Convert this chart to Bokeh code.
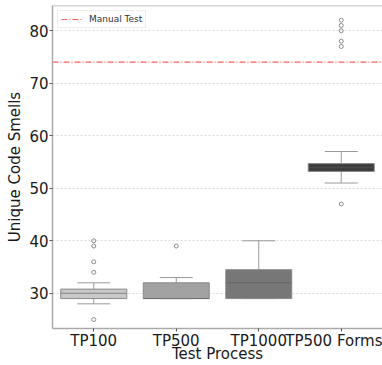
from bokeh.plotting import figure
from bokeh.models import (Range1d, FixedTicker, Span, Legend, LegendItem,
                          ColumnDataSource)
from bokeh.embed import file_html
from bokeh.resources import INLINE

# ---- data ----
categories = ["TP100", "TP500", "TP1000", "TP500 Forms"]
q1 = [29.0, 29.0, 29.0, 53.2]
median = [30.0, 29.0, 32.0, 54.0]
q3 = [30.8, 32.0, 34.5, 54.7]
whisker_low = [28.0, 29.0, 29.0, 51.0]
whisker_high = [32.0, 33.0, 40.0, 57.0]
outliers = [[40, 39, 36, 34, 25], [39], [], [82, 81, 80, 78, 77, 47]]
manual_test = 74
box_colors = ["#c8c8c8", "#a2a2a2", "#777777", "#3d3d3d"]
y_ticks = [30, 40, 50, 60, 70, 80]

FONT = "DejaVu Sans"

p = figure(width=382, height=365, output_backend="svg", toolbar_location=None,
           tools="",
           x_range=Range1d(-0.5, 3.5), y_range=Range1d(23.3, 84.8),
           min_border_left=52, min_border_right=0, min_border_top=5,
           min_border_bottom=32)
p.outline_line_color = None
p.background_fill_color = "white"
p.border_fill_color = "white"

xs = list(range(len(categories)))
src = ColumnDataSource(dict(x=xs, q1=q1, q3=q3, med=median, lo=whisker_low,
                            hi=whisker_high, color=box_colors,
                            cl=[x - 0.2 for x in xs], cr=[x + 0.2 for x in xs],
                            bl=[x - 0.4 for x in xs], br=[x + 0.4 for x in xs]))

whisk = "#9a9a9a"
p.segment(x0="x", y0="q3", x1="x", y1="hi", source=src, line_color=whisk, line_width=1)
p.segment(x0="x", y0="q1", x1="x", y1="lo", source=src, line_color=whisk, line_width=1)
p.segment(x0="cl", y0="hi", x1="cr", y1="hi", source=src, line_color=whisk, line_width=1)
p.segment(x0="cl", y0="lo", x1="cr", y1="lo", source=src, line_color=whisk, line_width=1)
p.vbar(x="x", width=0.8, bottom="q1", top="q3", source=src, fill_color="color",
       line_color="#8a8a8a", line_width=1)
p.segment(x0="bl", y0="med", x1="br", y1="med", source=src, line_color="#5a5a5a",
          line_width=1, line_alpha=0.6)

ox, oy = [], []
for i, vals in enumerate(outliers):
    for v in vals:
        ox.append(i)
        oy.append(v)
p.scatter(ox, oy, size=4, marker="circle", fill_color=None, line_color="#8a8a8a",
          line_width=1)

# manual test reference line
mt = p.line([-0.5, 3.5], [manual_test, manual_test], line_color="#ff4d4d",
            line_alpha=0.9, line_dash="6 2 1 2", line_width=1.2)
legend = Legend(items=[LegendItem(label="Manual Test", renderers=[mt])],
                location="top_left", label_text_font_size="9px",
                label_text_font=FONT, label_text_color="#333333",
                glyph_width=22, glyph_height=10, label_height=10,
                padding=3, spacing=0, margin=5, label_standoff=6,
                border_line_color="#dddddd", border_line_width=1,
                background_fill_alpha=0.9)
p.add_layout(legend)

# top spine
p.add_layout(Span(location=84.8, dimension="width", line_color="#aaaaaa", line_width=1.5))

# axes
p.xaxis.ticker = FixedTicker(ticks=xs)
p.xaxis.major_label_overrides = {i: c for i, c in enumerate(categories)}
p.xaxis.minor_tick_line_color = None
p.yaxis.ticker = FixedTicker(ticks=y_ticks)
p.yaxis.minor_tick_line_color = None
for ax in (p.xaxis[0], p.yaxis[0]):
    ax.axis_line_color = "#aaaaaa"
    ax.axis_line_width = 1.5
    ax.major_tick_line_color = "#555555"
    ax.major_tick_in = 0
    ax.major_tick_out = 3
    ax.major_label_text_font = FONT
    ax.major_label_text_font_size = "15px"
    ax.major_label_text_color = "#1a1a1a"
    ax.major_label_standoff = 1
p.xaxis.major_label_standoff = 0
p.yaxis.axis_label = "Unique Code Smells"
p.yaxis.axis_label_text_font = FONT
p.yaxis.axis_label_text_font_size = "15px"
p.yaxis.axis_label_text_font_style = "normal"
p.yaxis.axis_label_text_color = "#1a1a1a"
p.yaxis.axis_label_standoff = 2

p.xaxis.axis_label = "Test Process"
p.xaxis.axis_label_text_font = FONT
p.xaxis.axis_label_text_font_size = "15px"
p.xaxis.axis_label_text_font_style = "normal"
p.xaxis.axis_label_text_color = "#1a1a1a"
p.xaxis.axis_label_standoff = -8

p.xgrid.grid_line_color = None
p.ygrid.grid_line_color = "#dcdcdc"
p.ygrid.grid_line_dash = "2 2"
p.ygrid.grid_line_width = 1

open("out.html", "w").write(file_html(p, INLINE))
